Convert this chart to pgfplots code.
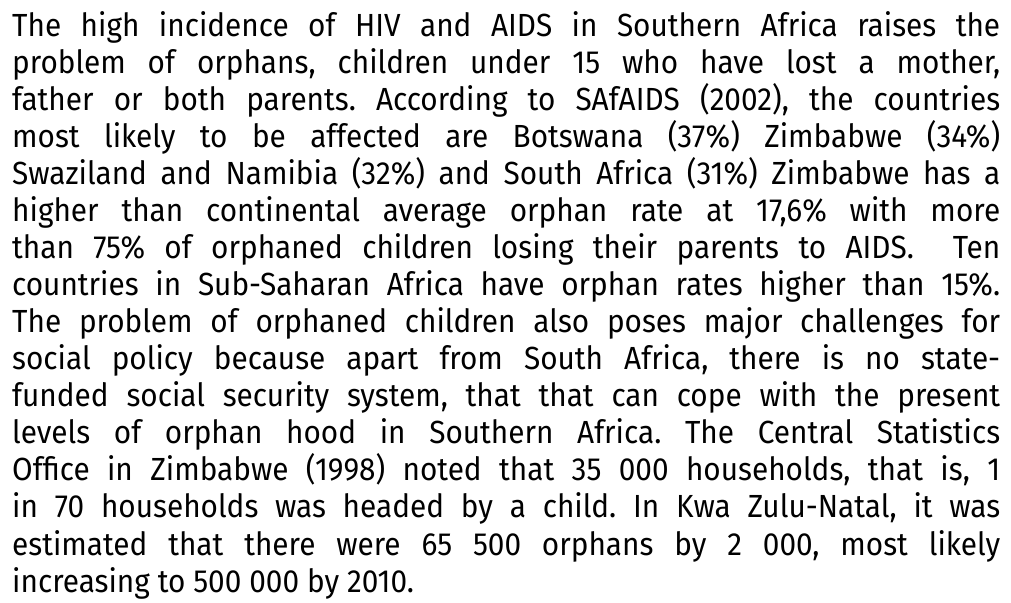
\documentclass[border=0pt]{standalone}
\usepackage{fontspec}
\setmainfont{Fira Sans}[FakeStretch=0.93]
\usepackage{pgfplots}
\pgfplotsset{compat=1.18}

% one justified line of the paragraph, placed at its baseline
\newcommand{\para}[2]{%
  \node[anchor=base west, inner sep=0pt] at (axis cs:12,#1)
    {\makebox[988pt][s]{#2}};}
\newcommand{\lastline}[2]{%
  \node[anchor=base west, inner sep=0pt] at (axis cs:12,#1) {#2};}

\begin{document}
\frenchspacing
\begin{tikzpicture}
\begin{axis}[
    width=1011pt, height=602pt,
    scale only axis,
    hide axis,
    xmin=0, xmax=1011,
    ymin=0, ymax=602,
    clip=false,
]
\addplot[draw=none] coordinates {(0,0) (1011,602)};
\fontsize{32}{37}\selectfont
\para{565}{The high incidence of HIV and AIDS in Southern Africa raises the}
\para{528}{problem of orphans, children under 15 who have lost a mother,}
\para{491}{father or both parents. According to SAfAIDS (2002), the countries}
\para{454}{most likely to be affected are Botswana (37\%) Zimbabwe (34\%)}
\para{417}{Swaziland and Namibia (32\%) and South Africa (31\%) Zimbabwe has a}
\para{380}{higher than continental average orphan rate at 17,6\% with more}
\para{343}{than 75\% of orphaned children losing their parents to AIDS.\ \ Ten}
\para{306}{countries in Sub-Saharan Africa have orphan rates higher than 15\%.}
\para{269}{The problem of orphaned children also poses major challenges for}
\para{232}{social policy because apart from South Africa, there is no state-}
\para{195}{funded social security system, that that can cope with the present}
\para{158}{levels of orphan hood in Southern Africa. The Central Statistics}
\para{121}{Office in Zimbabwe (1998) noted that 35 000 households, that is, 1}
\para{84}{in 70 households was headed by a child. In Kwa Zulu-Natal, it was}
\para{47}{estimated that there were 65 500 orphans by 2 000, most likely}
\lastline{10}{increasing to 500 000 by 2010.}
\end{axis}
\end{tikzpicture}
\end{document}
